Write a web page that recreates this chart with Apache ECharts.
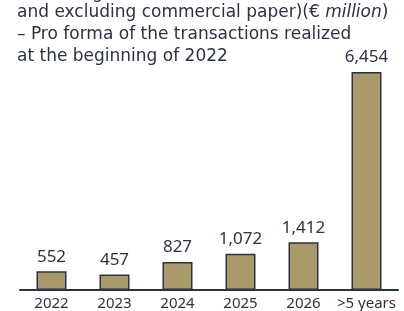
<!DOCTYPE html>
<html>
<head>
<meta charset="utf-8">
<script src="https://cdn.jsdelivr.net/npm/echarts@6/dist/echarts.min.js"></script>
<style>
html, body { margin: 0; padding: 0; background: #fff; }
#chart { width: 404px; height: 311px; }
</style>
</head>
<body>
<div id="chart"></div>
<script>
var categories = ['2022', '2023', '2024', '2025', '2026', '>5 years'];
var maturities = [552, 457, 827, 1072, 1412, 6454];
var titleLines = ['Borrowing (banks, bonds', 'and excluding commercial paper)(€ ', '– Pro forma of the transactions realized', 'at the beginning of 2022'];

var navy = '#2b3245';
var fontFamily = 'Noto Sans';
var titleFont = 'DejaVu Sans';

var myChart = echarts.init(document.getElementById('chart'));

myChart.setOption({
  animation: false,
  textStyle: { fontFamily: fontFamily },
  graphic: [{
    type: 'text', left: 17, top: -15,
    style: { text: titleLines[0], fill: navy, font: '17px ' + titleFont }
  }, {
    type: 'text', left: 17, top: 4,
    style: {
      text: '{a|' + titleLines[1] + '}{i|million}{a|)}',
      rich: {
        a: { fill: navy, font: '17px ' + titleFont },
        i: { fill: navy, font: 'oblique 17px ' + titleFont }
      }
    }
  }, {
    type: 'text', left: 17, top: 26,
    style: { text: titleLines[2], fill: navy, font: '17px ' + titleFont }
  }, {
    type: 'text', left: 17, top: 48,
    style: { text: titleLines[3], fill: navy, font: '17px ' + titleFont }
  }],
  grid: { left: 20, right: 6, top: 72, bottom: 20 },
  xAxis: {
    type: 'category',
    data: categories,
    axisLine: { lineStyle: { color: navy, width: 2 } },
    axisTick: { show: false },
    axisLabel: { color: navy, fontSize: 15, margin: 6, interval: 0 }
  },
  yAxis: {
    type: 'value',
    min: 0,
    max: 6454,
    show: false,
    splitLine: { show: false }
  },
  series: [{
    type: 'bar',
    data: maturities,
    barWidth: 30,
    itemStyle: { color: '#a89968', borderColor: navy, borderWidth: 1.5 },
    label: {
      show: true,
      position: 'top',
      distance: 6,
      color: navy,
      fontSize: 17,
      formatter: function (p) { return p.value.toLocaleString('en-US'); }
    }
  }]
});
</script>
</body>
</html>
